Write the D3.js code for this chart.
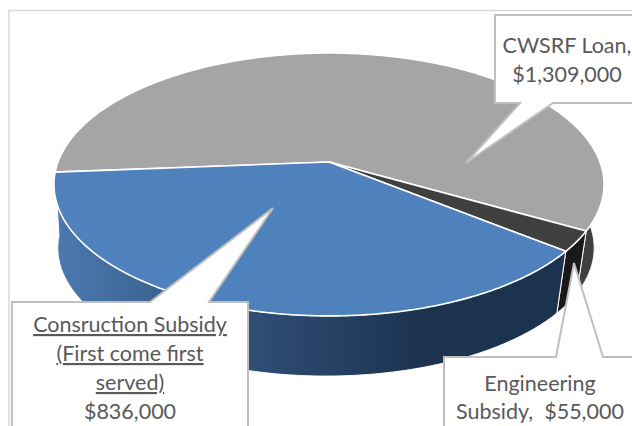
<!DOCTYPE html>
<html>
<head>
<meta charset="utf-8">
<script src="https://cdn.jsdelivr.net/npm/d3@7"></script>
<style>
  body { margin: 0; background: #fff; overflow: hidden; }
  text { font-family: Lato, "Open Sans", sans-serif; font-size: 21.5px; fill: #595959; text-anchor: middle; white-space: pre; }
</style>
</head>
<body>
<div id="container"></div>
<script>
const categories = ["CWSRF Loan", "Engineering Subsidy", "Construction Subsidy"];
const values = [1309000, 55000, 836000];
const topColors = ["#a5a5a5", "#404040", "#4f81bd"];
const wallColors = ["#404040", "#191919", "url(#blueWall)"];
const labelLines = [
  ["CWSRF Loan,", "$1,309,000"],
  ["Engineering", "Subsidy,  $55,000"],
  ["Consruction Subsidy", "(First come first", "served)", "$836,000"],
];
const underlined = [0, 0, 3];

const width = 632, height = 426;

// perspective of the pie plane
const cx = 329, cy = 162, depth = 64, shiftX = -3, shrink = 0.975;
const k = 0.171, rx = 271, ry = 127.6;

const project = (angle, wall) => {
  const u = Math.sin(angle), v = -Math.cos(angle);
  const s = 1 / (1 - k * v);
  const f = wall ? shrink : 1;
  return [cx + (wall ? shiftX : 0) + f * rx * u * s, cy + (wall ? depth : 0) + f * ry * v * s];
};

const startAngle = (265.5 * Math.PI) / 180;
const arcs = d3
  .pie()
  .sort(null)
  .startAngle(startAngle)
  .endAngle(startAngle + 2 * Math.PI)(values);

const rimAngles = (d) => {
  const n = Math.ceil((d.endAngle - d.startAngle) / 0.01);
  return d3.range(n + 1).map((i) => d.startAngle + ((d.endAngle - d.startAngle) * i) / n);
};

const line = d3.line().curve(d3.curveLinearClosed);

const svg = d3.select("#container").append("svg").attr("width", width).attr("height", height).style("display", "block");

const gradient = svg
  .append("defs")
  .append("linearGradient")
  .attr("id", "blueWall")
  .attr("gradientUnits", "userSpaceOnUse")
  .attr("x1", 55)
  .attr("x2", 420)
  .attr("y1", 0)
  .attr("y2", 0);
gradient.append("stop").attr("offset", "0%").attr("stop-color", "#4b7ab0");
gradient.append("stop").attr("offset", "60%").attr("stop-color", "#2c4a70");
gradient.append("stop").attr("offset", "100%").attr("stop-color", "#1c3350");

// chart frame runs off the right and bottom of the picture
svg
  .append("rect")
  .attr("x", 9)
  .attr("y", 10.5)
  .attr("width", 700)
  .attr("height", 500)
  .attr("fill", "#fff")
  .attr("stroke", "#d9d9d9")
  .attr("stroke-width", 1.5);

svg
  .selectAll(".wall")
  .data(arcs)
  .enter()
  .append("path")
  .attr("class", "wall")
  .attr("d", (d) => {
    const a = rimAngles(d);
    return line(a.map((t) => project(t, false)).concat(a.slice().reverse().map((t) => project(t, true))));
  })
  .attr("fill", (d, i) => wallColors[i])
  .attr("stroke", "#fff")
  .attr("stroke-width", 1);

svg
  .selectAll(".slice")
  .data(arcs)
  .enter()
  .append("path")
  .attr("class", "slice")
  .attr("d", (d) => line([[cx, cy]].concat(rimAngles(d).map((t) => project(t, false)))))
  .attr("fill", (d, i) => topColors[i])
  .attr("stroke", "#fff")
  .attr("stroke-width", 1.6)
  .attr("stroke-linejoin", "round");

// callout boxes: box edges, pointer base on the box edge and pointer tip
const callouts = [
  { left: 495, top: 15, right: 660, bottom: 103, baseSide: "bottom", base: [520, 553], tip: [466, 163], textX: 567, baselines: [53, 82] },
  { left: 444, top: 357, right: 660, bottom: 460, baseSide: "top", base: [556, 603], tip: [574, 263], textX: 540, baselines: [391, 419] },
  { left: 12, top: 302, right: 248, bottom: 460, baseSide: "top", base: [150, 209], tip: [273, 208], textX: 130, baselines: [332, 361, 390, 419] },
];

const calloutPath = (c) =>
  c.baseSide === "top"
    ? [[c.left, c.top], [c.base[0], c.top], c.tip, [c.base[1], c.top], [c.right, c.top], [c.right, c.bottom], [c.left, c.bottom]]
    : [[c.left, c.top], [c.right, c.top], [c.right, c.bottom], [c.base[1], c.bottom], c.tip, [c.base[0], c.bottom], [c.left, c.bottom]];

const callout = svg.selectAll(".callout").data(callouts).enter().append("g").attr("class", "callout");

callout
  .append("path")
  .attr("d", (c) => line(calloutPath(c)))
  .attr("fill", "#fff")
  .attr("stroke", "#bfbfbf")
  .attr("stroke-width", 2);

callout.each(function (c, i) {
  d3.select(this)
    .selectAll("text")
    .data(labelLines[i])
    .enter()
    .append("text")
    .attr("x", c.textX)
    .attr("y", (d, j) => c.baselines[j])
    .style("text-decoration", (d, j) => (j < underlined[i] ? "underline" : "none"))
    .text((d) => d);
});
</script>
</body>
</html>
